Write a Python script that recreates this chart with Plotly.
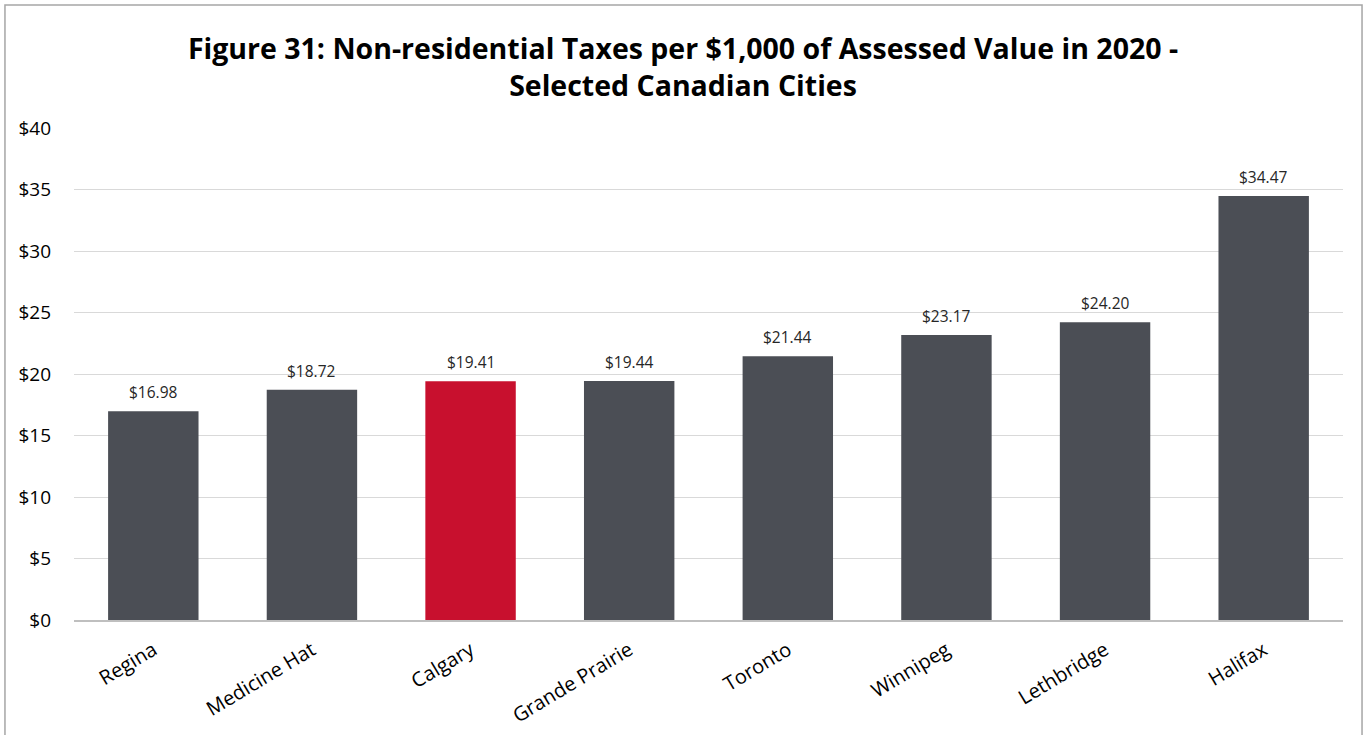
import plotly.graph_objects as go

cities = ["Regina", "Medicine Hat", "Calgary", "Grande Prairie", "Toronto",
          "Winnipeg", "Lethbridge", "Halifax"]
taxes = [16.98, 18.72, 19.41, 19.44, 21.44, 23.17, 24.20, 34.47]
highlight = "Calgary"

GREY = "#4B4E55"
RED = "#C8102E"
FONT = "'Open Sans', Lato, sans-serif"

colors = [RED if c == highlight else GREY for c in cities]

fig = go.Figure()
fig.add_trace(go.Bar(
    x=cities, y=taxes,
    marker=dict(color=colors, line=dict(width=0)),
    hovertemplate="%{x}: $%{y:.2f}<extra></extra>",
))

# value labels sit a little higher than plotly's default "outside" text
for c, v in zip(cities, taxes):
    fig.add_annotation(x=c, y=v, text=f"${v:.2f}", showarrow=False,
                       yanchor="bottom", yshift=6,
                       font=dict(size=15.5, color="#262626", family=FONT))

# outer chart border, in paper coords relative to the plot area
fig.add_shape(type="rect", xref="paper", yref="paper",
              x0=-0.0544, x1=1.015, y0=-0.26, y1=1.250,
              line=dict(color="#A6A6A6", width=1.5), fillcolor="rgba(0,0,0,0)")

fig.update_layout(
    width=1366, height=735,
    margin=dict(l=74, r=23, t=128, b=115),
    paper_bgcolor="white", plot_bgcolor="white",
    font=dict(family=FONT, color="#000000"),
    title=dict(
        text="<b>Figure 31: Non-residential Taxes per $1,000 of Assessed Value in 2020 -<br>Selected Canadian Cities</b>",
        x=0.5, xanchor="center", y=0.92, yanchor="top",
        font=dict(size=28.5, family=FONT, color="#000000"),
    ),
    bargap=0.43,
    showlegend=False,
)
fig.update_yaxes(
    range=[0, 40], dtick=5, tickprefix="$", tickformat="d",
    showgrid=True, gridcolor="#D9D9D9", gridwidth=1,
    zeroline=False, showline=False, ticks="", automargin=False,
    tickfont=dict(size=19, color="#000000"), ticklabelstandoff=22,
)
fig.update_xaxes(
    showline=True, linecolor="#BFBFBF", linewidth=1.5, automargin=False,
    tickangle=-31, ticks="", tickfont=dict(size=20, color="#000000"),
    ticklabelstandoff=9,
)

fig.write_html("out.html", config={"displayModeBar": False},
               post_script="document.body.style.margin='0';")
